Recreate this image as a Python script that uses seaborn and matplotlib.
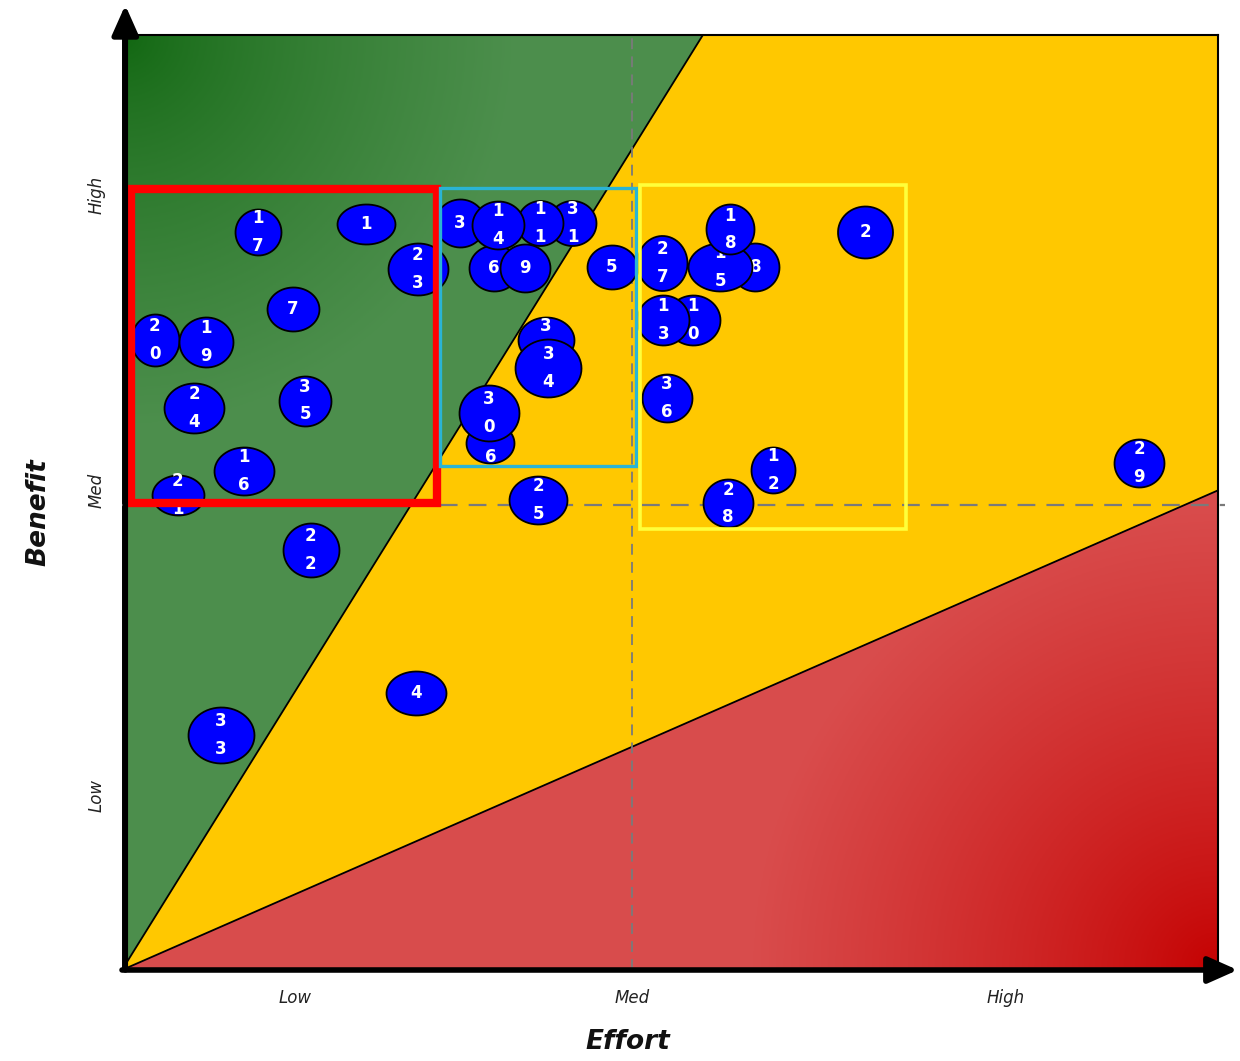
import numpy as np
import matplotlib
matplotlib.use("Agg")
import matplotlib.pyplot as plt
from matplotlib.patches import Polygon, Rectangle
from matplotlib.path import Path
import seaborn as sns

# ---- data (effort / benefit on a 0-10 scale) ----
green_top_x = 5.30   # green/yellow border meets the top edge
red_right_y = 5.13   # yellow/red border meets the right edge
med_x = 4.65
med_y = 4.97

x_ticks = [1.58, 4.65, 8.06]
y_ticks = [1.87, 5.13, 8.29]
tick_names = ["Low", "Med", "High"]

# bubbles in drawing order (later ones lie on top)
labels = ["33", "4", "22", "21", "16", "24", "35", "20", "19", "7", "17", "1",
          "23", "3", "6", "9", "31", "11", "14", "5", "32", "34", "26", "30",
          "25", "27", "8", "15", "18", "2", "10", "13", "36", "12", "28", "29"]
effort = [0.90, 2.68, 1.72, 0.51, 1.11, 0.66, 1.67, 0.30, 0.77, 1.56, 1.24, 2.23,
          2.70, 3.08, 3.39, 3.68, 4.11, 3.81, 3.43, 4.47, 3.87, 3.89, 3.36, 3.35,
          3.80, 4.93, 5.78, 5.46, 5.55, 6.78, 5.21, 4.94, 4.97, 5.94, 5.53, 9.28]
benefit = [2.51, 2.96, 4.49, 5.08, 5.34, 6.01, 6.09, 6.74, 6.72, 7.07, 7.89, 7.98,
           7.50, 7.99, 7.51, 7.51, 7.99, 7.99, 7.97, 7.52, 6.74, 6.44, 5.64, 5.96,
           5.03, 7.56, 7.52, 7.52, 7.92, 7.89, 6.95, 6.95, 6.12, 5.35, 4.99, 5.42]
# bubble width / height (px)
bubble_w = [66, 60, 56, 52, 60, 60, 52, 48, 54, 52, 46, 58,
            60, 50, 50, 50, 48, 46, 52, 50, 56, 66, 48, 60,
            58, 50, 48, 64, 48, 55, 54, 52, 50, 44, 50, 50]
bubble_h = [56, 44, 54, 40, 48, 50, 50, 52, 50, 44, 46, 40,
            52, 48, 46, 48, 45, 45, 48, 44, 46, 58, 40, 56,
            48, 55, 48, 48, 50, 52, 50, 50, 48, 46, 48, 48]

# highlight boxes
box_colors = ["#ff0000", "#2ab4d4", "#ffff3a"]
box_x0 = [0.08, 2.90, 4.73]
box_x1 = [2.87, 4.69, 7.15]
box_y0 = [4.99, 5.39, 4.72]
box_y1 = [8.35, 8.36, 8.40]
box_lw = [6.0, 2.4, 2.6]

# ---- figure ----
sns.set_theme(style="white")
plt.rcParams["font.family"] = ["DejaVu Sans"]

fig = plt.figure(figsize=(12.4, 10.61), dpi=100)
ax = fig.add_axes([122 / 1240, 1 - 970 / 1061, 1096 / 1240, 935 / 1061])
ax.set_xlim(0, 10)
ax.set_ylim(0, 10)

# yellow background
ax.add_patch(Rectangle((0, 0), 10, 10, facecolor="#ffc800", edgecolor="none", zorder=0))

# gradient fills for green / red wedges
gx, gy = np.meshgrid(np.linspace(0, 10, 400), np.linspace(0, 10, 400))
d_green = np.sqrt((gx * 1.17) ** 2 + (10 - gy) ** 2)
t = np.clip(d_green / 4.2, 0, 1) ** 0.7
dark_g, light_g = np.array([0.06, 0.40, 0.06]), np.array([0.30, 0.56, 0.30])
img_g = dark_g * (1 - t[..., None]) + light_g * t[..., None]
d_red = np.sqrt(((10 - gx) * 1.17) ** 2 + gy ** 2)
t = np.clip(d_red / 5.0, 0, 1) ** 0.8
dark_r, light_r = np.array([0.77, 0.0, 0.0]), np.array([0.85, 0.30, 0.30])
img_r = dark_r * (1 - t[..., None]) + light_r * t[..., None]

green_poly = Polygon([(0, 0), (green_top_x, 10), (0, 10)], closed=True,
                     facecolor="none", edgecolor="black", lw=1.3, zorder=2)
red_poly = Polygon([(0, 0), (10, 0), (10, red_right_y)], closed=True,
                   facecolor="none", edgecolor="black", lw=1.3, zorder=2)
ax.add_patch(green_poly)
ax.add_patch(red_poly)
im = ax.imshow(img_g, extent=(0, 10, 0, 10), origin="lower", aspect="auto", zorder=1)
im.set_clip_path(green_poly)
im = ax.imshow(img_r, extent=(0, 10, 0, 10), origin="lower", aspect="auto", zorder=1)
im.set_clip_path(red_poly)

# Med guide lines
ax.plot([med_x, med_x], [0, 10], ls=(0, (6, 4)), color="#7a7a7a", lw=1.3, zorder=3)
ax.plot([0, 10.06], [med_y, med_y], ls=(0, (8, 5)), color="#7a7a7a", lw=1.6,
        zorder=3, clip_on=False)

# bubbles
ang = np.linspace(0, 2 * np.pi, 60)
for i, lab in enumerate(labels):
    w, h = bubble_w[i], bubble_h[i]
    verts = np.column_stack([np.cos(ang) * w / 2, np.sin(ang) * h / 2])
    marker = Path(verts, closed=True)
    size = (max(w, h) * 0.72) ** 2
    sns.scatterplot(x=[effort[i]], y=[benefit[i]], marker=marker, s=size,
                    color="#0000ff", edgecolor="black", linewidth=1.3,
                    zorder=10 + 2 * i, ax=ax, legend=False)
    offs = [0] if len(lab) == 1 else [10, -10]
    for ch, off in zip(lab, offs):
        ax.annotate(ch, (effort[i], benefit[i]), xytext=(0, off), textcoords="offset points",
                    ha="center", va="center", color="white", fontsize=12,
                    fontweight="bold", zorder=11 + 2 * i)

# highlight boxes
for c, x0, x1, y0, y1, lw in zip(box_colors, box_x0, box_x1, box_y0, box_y1, box_lw):
    ax.add_patch(Rectangle((x0, y0), x1 - x0, y1 - y0, fill=False, edgecolor=c,
                           lw=lw, joinstyle="miter", zorder=200))

# axes frame and arrows
for s in ["left", "bottom"]:
    ax.spines[s].set_visible(False)
for s in ["top", "right"]:
    ax.spines[s].set_color("black")
    ax.spines[s].set_linewidth(1.5)
arrow = dict(arrowstyle="-|>,head_length=0.9,head_width=0.4", lw=4, color="black",
             shrinkA=0, shrinkB=0, mutation_scale=20)
ax.annotate("", xy=(0.003, 1.032), xytext=(0.003, 0), xycoords="axes fraction",
            arrowprops=arrow, zorder=300, annotation_clip=False)
ax.annotate("", xy=(1.018, 0.0), xytext=(0, 0.0), xycoords="axes fraction",
            arrowprops=arrow, zorder=300, annotation_clip=False)

ax.set_xticks(x_ticks)
ax.set_xticklabels(tick_names, fontstyle="italic", fontsize=12, color="#222222")
ax.set_yticks(y_ticks)
ax.set_yticklabels(tick_names, fontstyle="italic", fontsize=12, color="#222222",
                   rotation=90, va="center")
ax.tick_params(axis="x", length=0, pad=14)
ax.tick_params(axis="y", length=0, pad=12)
ax.grid(False)

fig.text(38 / 1240, 1 - 512 / 1061, "Benefit", rotation=90, ha="center", va="center",
         fontsize=19, fontweight="bold", fontstyle="italic", color="#111111")
fig.text(628 / 1240, 1 - 1042 / 1061, "Effort", ha="center", va="center",
         fontsize=19, fontweight="bold", fontstyle="italic", color="#111111")

fig.savefig("out.png", dpi=100)
